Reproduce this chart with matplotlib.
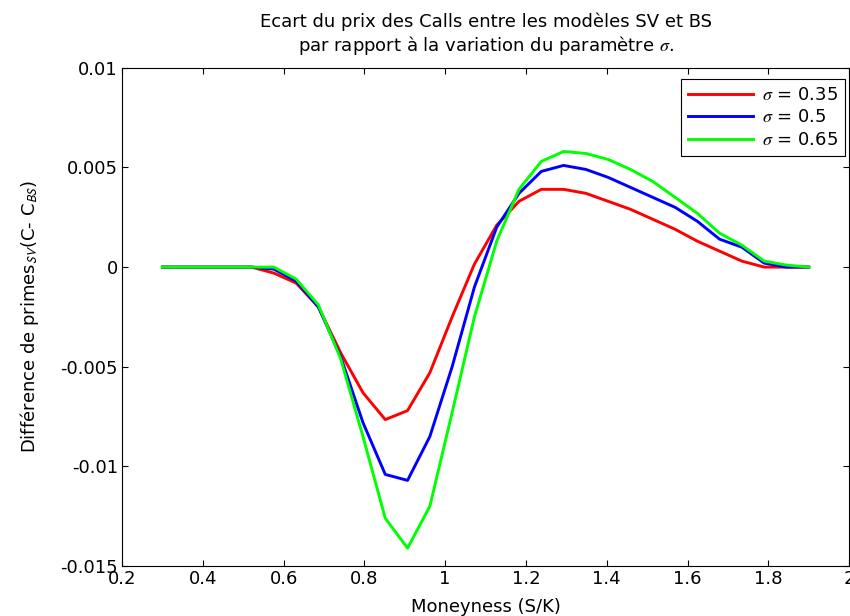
import numpy as np
import matplotlib
matplotlib.use("Agg")
import matplotlib.pyplot as plt

plt.rcParams['font.family'] = ['DejaVu Sans']
plt.rcParams['mathtext.fontset'] = 'stix'

# Moneyness grid (30 points from 0.3 to 1.9)
moneyness = np.linspace(0.3, 1.9, 30)

# Price difference C_SV - C_BS for each sigma
diff_035 = [0.0, 0.0, 0.0, 0.0, 0.0, -0.0003, -0.0008, -0.0020, -0.0043, -0.0063,
            -0.00765, -0.0072, -0.0053, -0.0025, 0.00015, 0.0021, 0.0033, 0.0039, 0.0039, 0.0037,
            0.0033, 0.0029, 0.0024, 0.0019, 0.0013, 0.0008, 0.0003, 0.0, 0.0, 0.0]
diff_05 = [0.0, 0.0, 0.0, 0.0, 0.0, -0.0001, -0.0007, -0.0020, -0.0045, -0.0078,
           -0.0104, -0.0107, -0.0085, -0.0050, -0.0010, 0.0020, 0.0037, 0.0048, 0.0051, 0.0049,
           0.0045, 0.0040, 0.0035, 0.0030, 0.0023, 0.0014, 0.0010, 0.0002, 0.0, 0.0]
diff_065 = [0.0, 0.0, 0.0, 0.0, 0.0, 0.0, -0.0006, -0.0019, -0.0046, -0.0085,
            -0.0126, -0.0141, -0.0120, -0.0073, -0.0025, 0.0013, 0.0039, 0.0053, 0.0058, 0.0057,
            0.0054, 0.0049, 0.0043, 0.0035, 0.0027, 0.0017, 0.0011, 0.0003, 0.0001, 0.0]

labels = [r'$\sigma$ = 0.35', r'$\sigma$ = 0.5', r'$\sigma$ = 0.65']
colors = ['#ff0000', '#0000ff', '#00ff00']

fig = plt.figure(figsize=(8.5, 6.16), dpi=100)
ax = fig.add_axes([0.1435, 0.081, 0.8555, 0.809])

for y, lab, c in zip([diff_035, diff_05, diff_065], labels, colors):
    ax.plot(moneyness, y, color=c, linewidth=2.1, label=lab)

ax.set_xlim(0.2, 2.0)
ax.set_ylim(-0.015, 0.01)
ax.set_xticks(np.arange(0.2, 2.01, 0.2))
ax.set_xticklabels(['0.2', '0.4', '0.6', '0.8', '1', '1.2', '1.4', '1.6', '1.8', '2'])
ax.set_yticks([-0.015, -0.01, -0.005, 0, 0.005, 0.01])
ax.set_yticklabels(['-0.015', '-0.01', '-0.005', '0', '0.005', '0.01'])
ax.tick_params(direction='in', top=True, right=True, labelsize=13, length=4.5, width=0.8, pad=3)
for s in ax.spines.values():
    s.set_linewidth(0.8)

ax.set_title('Ecart du prix des Calls entre les modèles SV et BS\n'
             'par rapport à la variation du paramètre $\\sigma$.',
             fontsize=13, pad=12, linespacing=1.2)
ax.set_xlabel('Moneyness (S/K)', fontsize=13, labelpad=7)
ax.set_ylabel('Différence de primes$_{\\mathsf{SV}}$(C- C$_{\\mathsf{BS}}$)', fontsize=13, labelpad=14)

leg = ax.legend(loc='upper right', bbox_to_anchor=(0.9945, 0.978), borderaxespad=0,
                fontsize=13, fancybox=False, framealpha=1, edgecolor='black',
                handlelength=3.6, handletextpad=0.5, labelspacing=0.25, borderpad=0.4)
leg.get_frame().set_linewidth(0.8)

fig.savefig('out.png', dpi=100)
